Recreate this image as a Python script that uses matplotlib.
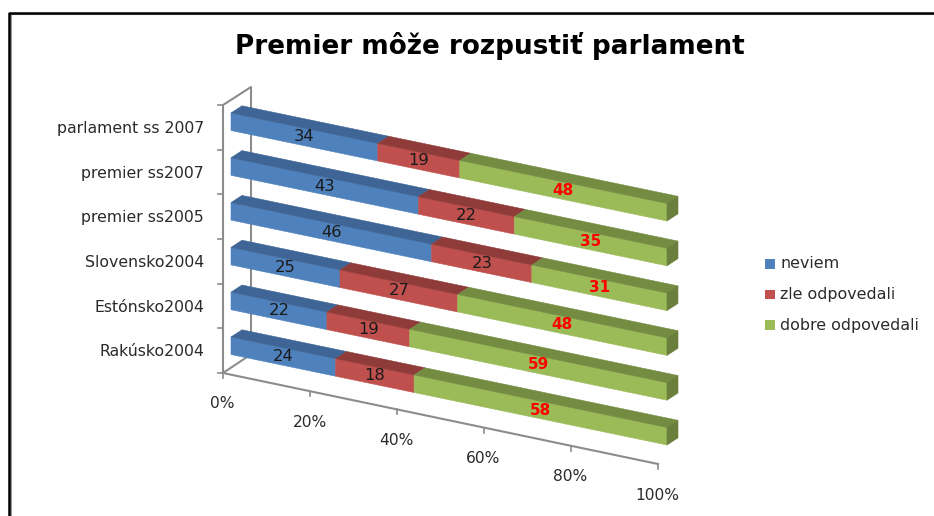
import matplotlib
matplotlib.use("Agg")
import matplotlib.pyplot as plt
from matplotlib.patches import Polygon, Rectangle
from matplotlib.lines import Line2D

categories = ["parlament ss 2007", "premier ss2007", "premier ss2005",
              "Slovensko2004", "Estónsko2004", "Rakúsko2004"]
neviem = [34, 43, 46, 25, 22, 24]
zle = [19, 22, 23, 27, 19, 18]
dobre = [48, 35, 31, 48, 59, 58]
series_names = ["neviem", "zle odpovedali", "dobre odpovedali"]
series = [neviem, zle, dobre]
front_colors = ["#4F81BD", "#C0504D", "#9BBB59"]
top_colors = ["#3E6595", "#8E3B39", "#748C42"]
side_color = "#6A7F3C"
x_ticks = [0, 20, 40, 60, 80, 100]
title = "Premier môže rozpustiť parlament"

W, H = 934, 516
fig = plt.figure(figsize=(W / 100, H / 100), dpi=100, facecolor="white")
ax = fig.add_axes([0, 0, 1, 1])
ax.set_xlim(0, W)
ax.set_ylim(H, 0)
ax.axis("off")
FONT = "DejaVu Sans"
TXT = "#2A2A2A"
AX = "#8C8C8C"


def bar_pt(pct, row):
    return 231 + pct * 4.36, 113 + row * 44.8 + pct * 0.905


def axis_pt(pct):
    return 223 + pct * 4.35, 373 + pct * 0.91


BAR_H = 17.5
DX, DY = 11, -7.2

# frame
ax.add_line(Line2D([10.5, 10.5], [14, H], color="#9A9A9A", lw=1.5))
ax.add_line(Line2D([9, W], [14.2, 14.2], color="#B0B0B0", lw=0.8))
ax.add_line(Line2D([8.5, 8.5, W], [H, 12.5, 12.5], color="black", lw=1.8))

# walls and axes
ax.add_line(Line2D([251, 251, 223, 223, 250], [355, 87, 105, 373, 355], color=AX, lw=1.5))
for i in range(7):
    y = 105 + i * 44.67
    ax.add_line(Line2D([218, 223], [y, y], color=AX, lw=1.2))
ax.add_line(Line2D([axis_pt(0)[0], axis_pt(100)[0]], [axis_pt(0)[1], axis_pt(100)[1]], color=AX, lw=1.5))
for t in x_ticks:
    x, y = axis_pt(t)
    ax.add_line(Line2D([x, x], [y, y + 5], color=AX, lw=1.2))
    ax.text(x - 0.5, y + 31, f"{t}%", ha="center", va="center",
            fontsize=11.2, family=FONT, color=TXT)

# bars
for r, name in enumerate(categories):
    vals = [s[r] for s in series]
    total = sum(vals)
    cum = 0
    for k, v in enumerate(vals):
        p0 = cum / total * 100
        p1 = (cum + v) / total * 100
        cum += v
        x0, y0 = bar_pt(p0, r)
        x1, y1 = bar_pt(p1, r)
        ax.add_patch(Polygon([(x0, y0), (x1, y1), (x1, y1 + BAR_H), (x0, y0 + BAR_H)],
                             fc=front_colors[k], ec=front_colors[k], lw=0.4, zorder=3))
        ax.add_patch(Polygon([(x0, y0), (x1, y1), (x1 + DX, y1 + DY), (x0 + DX, y0 + DY)],
                             fc=top_colors[k], ec=top_colors[k], lw=0.4, zorder=3))
        if k == 2:
            ax.add_patch(Polygon([(x1, y1), (x1 + DX, y1 + DY), (x1 + DX, y1 + DY + BAR_H), (x1, y1 + BAR_H)],
                                 fc=side_color, ec=side_color, lw=0.4, zorder=3))
        xm, ym = bar_pt((p0 + p1) / 2, r)
        if k == 2:
            ax.text(xm, ym + BAR_H / 2, str(v), ha="center", va="center", fontsize=11,
                    family=FONT, color="#FF0000", fontweight="bold", zorder=4)
        else:
            ax.text(xm, ym + BAR_H / 2, str(v), ha="center", va="center", fontsize=11.8,
                    family=FONT, color="#1A1A1A", zorder=4)
    ax.text(204, 128.5 + r * 44.7, name, ha="right", va="center", fontsize=11.3,
            family=FONT, color=TXT)

# legend
for i, (name, c) in enumerate(zip(series_names, front_colors)):
    y = 264 + i * 30.6
    ax.add_patch(Rectangle((765, y - 4.8), 9.6, 9.6, fc=c, ec="none"))
    ax.text(780, y, name, ha="left", va="center", fontsize=11.4, family=FONT, color=TXT)

ax.text(490, 46.5, title, ha="center", va="center", fontsize=18.9, family=FONT,
        fontweight="bold", color="black")

fig.savefig("out.png", dpi=100, facecolor="white")
